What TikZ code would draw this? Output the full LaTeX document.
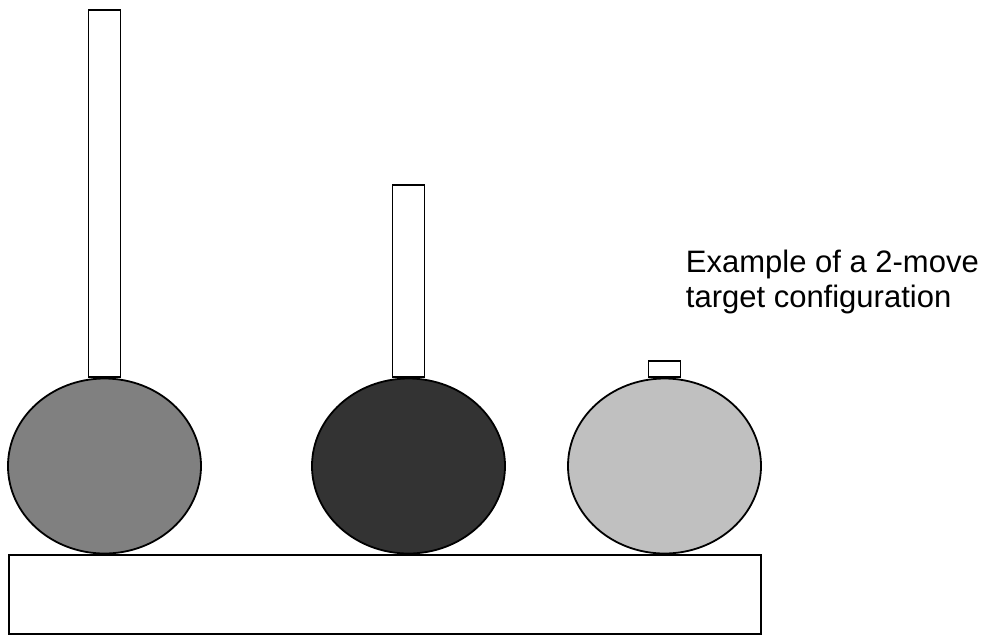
\documentclass[tikz,border=0pt]{standalone}
\usepackage{fontspec}
\setmainfont{Liberation Sans}
\usepackage{xcolor}
\usepackage{tikz}
\usetikzlibrary{shapes.geometric}
\usetikzlibrary{positioning}
\definecolor{midgray}{HTML}{808080}
\definecolor{darkgray}{HTML}{333333}
\definecolor{lightgray}{HTML}{C0C0C0}
\begin{document}
\begin{tikzpicture}[x=1pt,y=-1pt,line width=1.8pt]
	\tikzstyle{disc}=[draw, ellipse, inner sep=0pt, minimum width=193pt, minimum height=175pt]
	\tikzstyle{peg}=[draw, rectangle, fill=white, inner sep=0pt, minimum width=32pt, anchor=south]
	\useasboundingbox (0,0) rectangle (995,635);
		\node[draw, rectangle, inner sep=0pt, minimum width=752.5pt, minimum height=79pt] (base) at (385,594.5) {};
		\node[disc, fill=midgray]  (d1) at (104.5,466) {};
		\node[disc, fill=darkgray] (d2) at (408.5,466) {};
		\node[disc, fill=lightgray] (d3) at (664.5,466) {};

			\foreach \d/\h in {d1/367,d2/192,d3/16}{
				\node[peg, minimum height=\h pt] (peg-\d) at (\d.north) {};
				}

		\node[anchor=base west, inner sep=0pt, align=left, font=\fontsize{31}{34.5}\selectfont] (caption) at (685,307) {Example of a 2-move\\target configuration};
\end{tikzpicture}
\end{document}
